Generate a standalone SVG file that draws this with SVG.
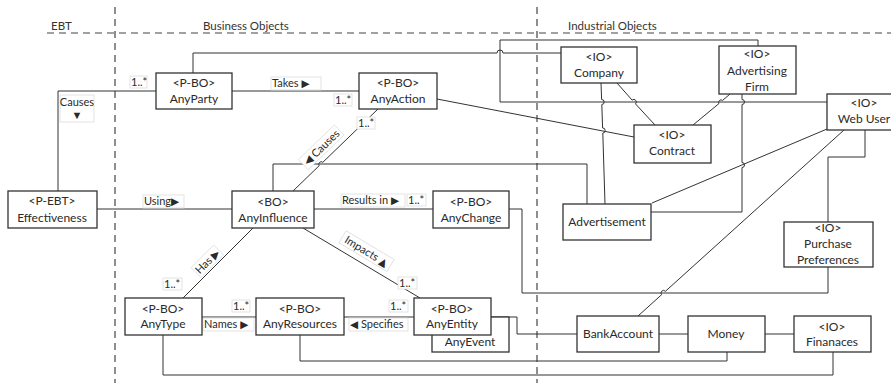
<svg xmlns="http://www.w3.org/2000/svg" width="891" height="383" viewBox="0 0 891 383">
<style>
.bg{fill:#fff}
.node rect{fill:#fff;stroke:#333;stroke-width:1.3}
.node text{font-family:Lato,"Liberation Sans",sans-serif;font-size:12px;fill:#2a2a2a;text-anchor:middle}
.sec{font-family:Lato,"Liberation Sans",sans-serif;font-size:11.5px;fill:#333}
.dash{stroke:#444;stroke-width:1.2;stroke-dasharray:7,5;fill:none}
#connectors path,#connectors line{fill:none;stroke:#333;stroke-width:1}
.lb rect{fill:#fff;stroke:#ddd;stroke-width:0.8}
.lb text{font-family:Lato,"Liberation Sans",sans-serif;font-size:11px;fill:#2a2a2a}
.ar{font-family:"DejaVu Sans",sans-serif;font-size:10.5px}
</style>
<rect class="bg" width="891" height="383"/>
<g id="sections">
<line class="dash" x1="47" y1="33" x2="891" y2="33"/>
<line class="dash" x1="115" y1="7" x2="115" y2="383"/>
<line class="dash" x1="537" y1="7" x2="537" y2="383"/>
<text class="sec" x="51" y="30">EBT</text>
<text class="sec" x="203" y="30">Business Objects</text>
<text class="sec" x="568" y="30">Industrial Objects</text>
</g>
<g id="connectors">
<path d="M232,91 H359"/>
<path d="M193,73 V53 H497 A3,3 0 0 1 503,53 H561"/>
<path d="M758,46 V40 H500 V102 H827"/>
<path d="M437,99 L634,137"/>
<path d="M617,83 L632.1,100.1 A2.5,2.5 0 0 1 635.5,103.9 L655,125"/>
<path d="M601,83 L601.6,99.5 A2.5,2.5 0 0 1 601.8,104.5 L602.6,128 A2.5,2.5 0 0 1 602.8,133 L605,204"/>
<path d="M730,94 L722.6,100.4 A2.5,2.5 0 0 0 718.9,103.6 L693,125"/>
<path d="M742,94 V99.5 A2.5,2.5 0 0 1 742,104.5 V162.5 A2.5,2.5 0 0 1 742,167.5 V212 H651"/>
<path d="M827,129 L652,203"/>
<path d="M844,130 L665.4,291.3 A2.5,2.5 0 0 0 661.6,294.7 L638,316"/>
<path d="M865,130 V157 H828 V222"/>
<path d="M509,209 H522 V293 H828 V267"/>
<path d="M273,191 V164 H587 V204"/>
<path d="M378,109 L322.8,162.3 A2.5,2.5 0 0 0 319.2,165.7 L293,191"/>
<path d="M156,91 H58 V191"/>
<path d="M97,209 H232"/>
<path d="M314,209 H433"/>
<path d="M253,228 L183,298"/>
<path d="M303,228 L420,298"/>
<path d="M202,317 H256"/>
<path d="M344,317 H414"/>
<path d="M163,335 V375 H833 V352"/>
<path d="M300,335 V361 H727 V352"/>
<path d="M491,317 H517 V334 H577"/>
<path d="M659,334 H688"/>
<path d="M765,334 H794"/>
</g>
<g id="labels">
<g class="lb"><rect x="130" y="76" width="17" height="12"/><text x="131" y="86">1..*</text></g>
<g class="lb"><rect x="271" y="77" width="50" height="13"/><text x="272" y="87">Takes <tspan class="ar">▶</tspan></text></g>
<g class="lb"><rect x="334" y="94" width="18" height="12"/><text x="335" y="104">1..*</text></g>
<g class="lb"><rect x="357" y="117" width="18" height="12"/><text x="358" y="127">1..*</text></g>
<g class="lb"><rect x="60" y="95" width="34" height="27"/><text x="77" y="106" text-anchor="middle">Causes</text><text x="77" y="119" text-anchor="middle" class="ar" font-size="11.5">▼</text></g>
<g class="lb" transform="translate(322,148) rotate(-44)"><rect x="-25" y="-8" width="50" height="14"/><text x="0" y="3" text-anchor="middle"><tspan class="ar">◀</tspan> Causes</text></g>
<g class="lb"><rect x="143" y="195" width="41" height="13"/><text x="144" y="205">Using<tspan class="ar">▶</tspan></text></g>
<g class="lb"><rect x="341" y="194" width="64" height="13"/><text x="342" y="204">Results in <tspan class="ar">▶</tspan></text></g>
<g class="lb"><rect x="407" y="194" width="19" height="12"/><text x="408" y="204">1..*</text></g>
<g class="lb" transform="translate(208,262) rotate(-45)"><rect x="-16" y="-8" width="32" height="14"/><text x="0" y="3" text-anchor="middle">Has <tspan class="ar">▶</tspan></text></g>
<g class="lb"><rect x="163" y="278" width="19" height="12"/><text x="164" y="288">1..*</text></g>
<g class="lb" transform="translate(366,252) rotate(31)"><rect x="-28" y="-8" width="56" height="14"/><text x="0" y="3" text-anchor="middle">Impacts <tspan class="ar">▲</tspan></text></g>
<g class="lb"><rect x="398" y="277" width="19" height="12"/><text x="399" y="287">1..*</text></g>
<g class="lb"><rect x="232" y="300" width="18" height="12"/><text x="233" y="310">1..*</text></g>
<g class="lb"><rect x="203" y="318" width="51" height="13"/><text x="204" y="328">Names <tspan class="ar">▶</tspan></text></g>
<g class="lb"><rect x="389" y="300" width="19" height="12"/><text x="390" y="310">1..*</text></g>
<g class="lb"><rect x="349" y="318" width="59" height="13"/><text x="350" y="328"><tspan class="ar">◀</tspan> Specifies</text></g>
</g>
<g id="AnyParty" class="node"><rect x="156" y="73" width="76" height="36"/><text x="194" y="87">&lt;P-BO&gt;</text><text x="194" y="103">AnyParty</text></g>
<g id="AnyAction" class="node"><rect x="359" y="73" width="78" height="36"/><text x="398" y="87">&lt;P-BO&gt;</text><text x="398" y="103">AnyAction</text></g>
<g id="Company" class="node"><rect x="561" y="47" width="76" height="36"/><text x="599" y="61">&lt;IO&gt;</text><text x="599" y="77">Company</text></g>
<g id="AdvertisingFirm" class="node"><rect x="719" y="46" width="77" height="48"/><text x="757" y="58">&lt;IO&gt;</text><text x="757" y="75">Advertising</text><text x="757" y="91">Firm</text></g>
<g id="WebUser" class="node"><rect x="827" y="94" width="72" height="36"/><text x="864" y="107">&lt;IO&gt;</text><text x="864" y="123">Web User</text></g>
<g id="Contract" class="node"><rect x="634" y="125" width="77" height="38"/><text x="672" y="139">&lt;IO&gt;</text><text x="672" y="155">Contract</text></g>
<g id="Effectiveness" class="node"><rect x="8" y="191" width="89" height="37"/><text x="52" y="205">&lt;P-EBT&gt;</text><text x="52" y="222">Effectiveness</text></g>
<g id="AnyInfluence" class="node"><rect x="232" y="191" width="82" height="37"/><text x="273" y="206">&lt;BO&gt;</text><text x="273" y="222">AnyInfluence</text></g>
<g id="AnyChange" class="node"><rect x="433" y="191" width="76" height="37"/><text x="471" y="206">&lt;P-BO&gt;</text><text x="471" y="222">AnyChange</text></g>
<g id="Advertisement" class="node"><rect x="563" y="204" width="88" height="36"/><text x="607" y="226">Advertisement</text></g>
<g id="PurchasePreferences" class="node"><rect x="784" y="222" width="89" height="45"/><text x="828" y="232">&lt;IO&gt;</text><text x="828" y="248">Purchase</text><text x="828" y="264">Preferences</text></g>
<g id="AnyType" class="node"><rect x="125" y="298" width="77" height="37"/><text x="163" y="313">&lt;P-BO&gt;</text><text x="163" y="328">AnyType</text></g>
<g id="AnyResources" class="node"><rect x="256" y="298" width="88" height="37"/><text x="300" y="313">&lt;P-BO&gt;</text><text x="300" y="328">AnyResources</text></g>
<g id="AnyEvent" class="node"><rect x="432" y="317" width="77" height="35"/><text x="470" y="346">AnyEvent</text></g>
<g id="AnyEntity" class="node"><rect x="414" y="298" width="77" height="37"/><text x="452" y="313">&lt;P-BO&gt;</text><text x="452" y="328">AnyEntity</text></g>
<g id="BankAccount" class="node"><rect x="577" y="316" width="82" height="36"/><text x="618" y="338">BankAccount</text></g>
<g id="Money" class="node"><rect x="688" y="316" width="77" height="36"/><text x="726" y="338">Money</text></g>
<g id="Finanaces" class="node"><rect x="794" y="316" width="77" height="36"/><text x="832" y="331">&lt;IO&gt;</text><text x="832" y="346">Finanaces</text></g>
</svg>
